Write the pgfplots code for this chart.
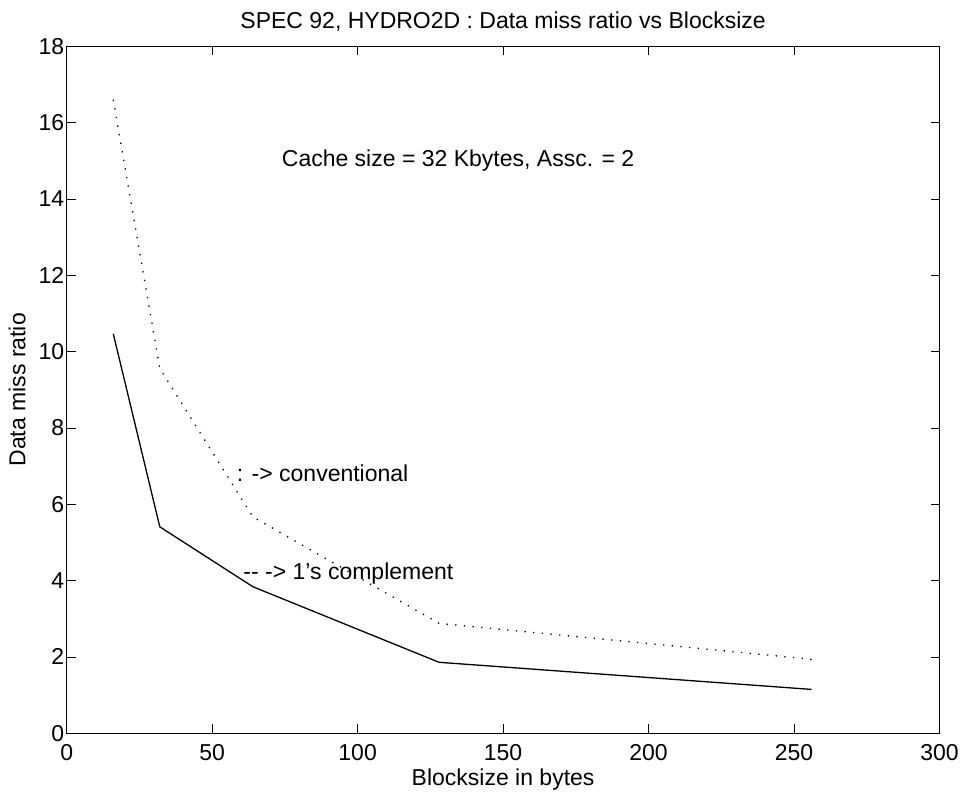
\documentclass[border=0pt]{standalone}
\usepackage{pgfplots}
\pgfplotsset{compat=1.18}
\usepackage{fontspec}
\setmainfont{Liberation Sans}
\newcommand{\ff}{\fontsize{23}{27.5}\selectfont}
\begin{document}
\begin{tikzpicture}
\begin{axis}[
  scale only axis,
  width=872.8pt, height=687pt,
  xmin=0, xmax=300, ymin=0, ymax=18,
  xtick={0,50,...,300}, ytick={0,2,...,18},
  tick align=inside, major tick length=9pt,
  tick style={black, line width=0.9pt},
  axis line style={line width=1.4pt},
  /pgf/number format/assume math mode=true,
  tick label style={font=\ff},
  label style={font=\ff},
  title style={font=\ff},
  title={SPEC 92, HYDRO2D : Data miss ratio vs Blocksize},
  xlabel={Blocksize in bytes},
  ylabel={Data miss ratio},
  xticklabel style={yshift=-8pt},
  yticklabel style={xshift=1pt},
  xlabel style={yshift=-1pt},
  ylabel style={yshift=6pt},
  title style={yshift=5pt},
  clip=false,
]
\addplot[black, line width=1.3pt, dash pattern=on 1.3pt off 7.4pt] coordinates {
(16,16.6) (32,9.56) (64,5.67) (128,2.88) (256,1.94)};
\addplot[black, line width=1.3pt] coordinates {
(16,10.47) (32,5.41) (64,3.84) (128,1.86) (256,1.15)};
\node[anchor=base west, inner sep=0, font=\ff] at (axis cs:73.9,14.84) {Cache size = 32 Kbytes, Assc. = 2};
\node[anchor=base west, inner sep=0, font=\ff] at (axis cs:58.4,6.59) {: -> conventional};
\node[anchor=base west, inner sep=0, font=\ff] at (axis cs:60.7,4.04) {-{}- -> 1's complement};
\end{axis}
\path[use as bounding box] ([xshift=-66.7pt,yshift=-59.7pt]current axis.south west) rectangle ([xshift=23.5pt,yshift=46.3pt]current axis.north east);
\end{tikzpicture}
\end{document}
